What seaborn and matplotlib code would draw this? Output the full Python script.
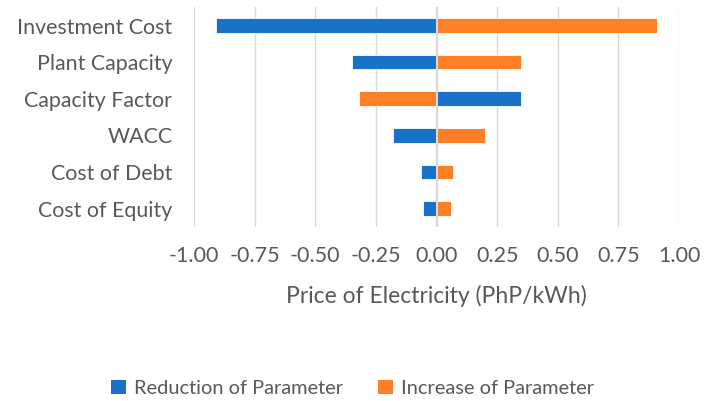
import matplotlib
matplotlib.use("Agg")
import matplotlib.pyplot as plt
from matplotlib.patches import Patch
import seaborn as sns
import pandas as pd

# Sensitivity of the price of electricity to each parameter (PhP/kWh)
categories = ["Investment Cost", "Plant Capacity", "Capacity Factor",
              "WACC", "Cost of Debt", "Cost of Equity"]
reduction = [-0.91, -0.35, 0.35, -0.18, -0.065, -0.055]
increase = [0.91, 0.35, -0.32, 0.20, 0.068, 0.058]
series_names = ["Reduction of Parameter", "Increase of Parameter"]
xticks = [-1.0, -0.75, -0.5, -0.25, 0.0, 0.25, 0.5, 0.75, 1.0]

BLUE = "#1772C8"
ORANGE = "#FF7F27"
TEXT = "#595959"
GRID = "#D9D9D9"

df = pd.DataFrame({
    "Parameter": categories * 2,
    "Change": reduction + increase,
    "Series": [series_names[0]] * len(categories) + [series_names[1]] * len(categories),
})

sns.set_theme(style="white")
plt.rcParams["font.family"] = ["Lato", "DejaVu Sans"]

fig = plt.figure(figsize=(7.17, 4.01), dpi=100)
ax = fig.add_axes([0.2706, 0.434, 0.6764, 0.548])

sns.barplot(data=df, y="Parameter", x="Change", hue="Series",
            order=categories, hue_order=series_names,
            palette=[BLUE, ORANGE], saturation=1, dodge=False, width=0.4,
            orient="h", ax=ax, legend=False,
            edgecolor="white", linewidth=0.6, zorder=3)

ax.set_xlim(-1.0, 1.0)
ax.set_ylim(len(categories) - 0.5, -0.5)
ax.set_xticks(xticks)
ax.set_xticklabels([f"{t:.2f}" for t in xticks])
ax.grid(axis="x", color=GRID, linewidth=1.0, zorder=0)
ax.grid(axis="y", visible=False)
ax.axvline(0, color=GRID, linewidth=1.5, zorder=4)
for s in ax.spines.values():
    s.set_visible(False)

ax.tick_params(axis="x", length=0, pad=14, labelsize=15.5, labelcolor=TEXT)
ax.tick_params(axis="y", length=0, pad=15.5, labelsize=15.4, labelcolor=TEXT)
ax.set_ylabel("")
ax.set_xlabel("Price of Electricity (PhP/kWh)", fontsize=16.5, color=TEXT, labelpad=13)

handles = [Patch(facecolor=BLUE, edgecolor="none"), Patch(facecolor=ORANGE, edgecolor="none")]
fig.legend(handles, series_names, loc="center", bbox_to_anchor=(0.492, 0.032),
           ncol=2, frameon=False, fontsize=14.4, labelcolor=TEXT,
           handlelength=0.75, handleheight=0.75, handletextpad=0.4, columnspacing=1.75)

fig.savefig("out.png", dpi=100)
